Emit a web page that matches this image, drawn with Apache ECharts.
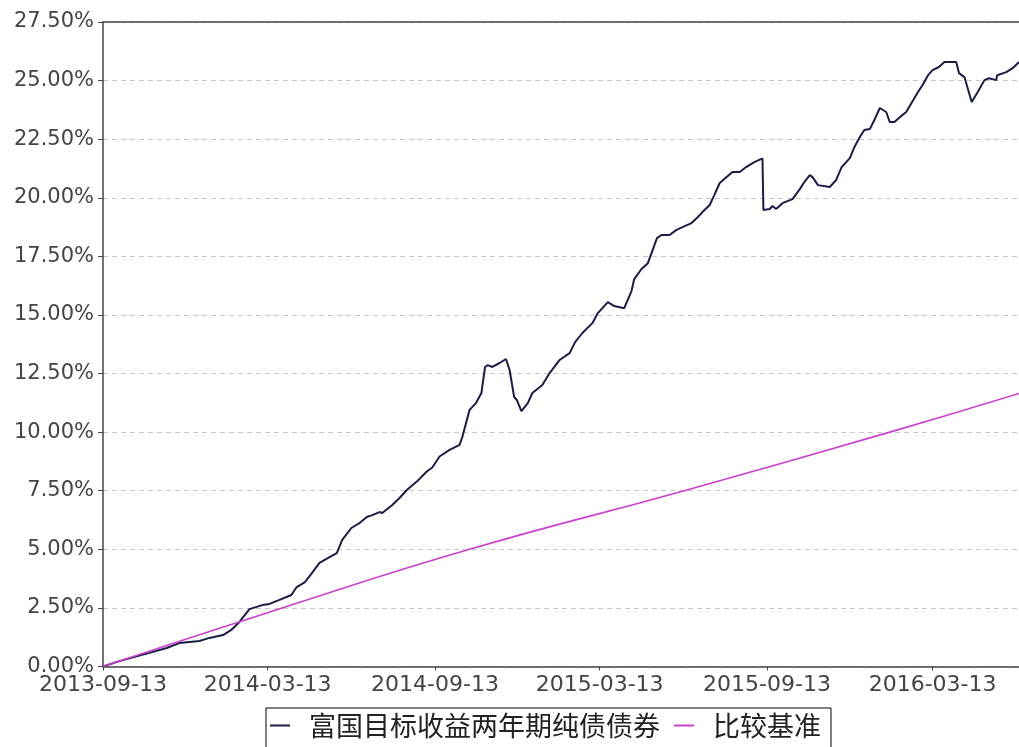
<!DOCTYPE html>
<html>
<head>
<meta charset="utf-8">
<script src="https://cdn.jsdelivr.net/npm/echarts@6/dist/echarts.min.js"></script>
<style>
html,body{margin:0;padding:0;background:#fff;}
#chart{width:1019px;height:747px;}
</style>
</head>
<body>
<div id="chart"></div>
<script>
const seriesNames = ['富国目标收益两年期纯债债券', '比较基准'];
const xTickLabels = ['2013-09-13','2014-03-13','2014-09-13','2015-03-13','2015-09-13','2016-03-13'];
const xMin = '2013-09-13';
const xMax = '2016-06-16';

const fundDates = ['2013-09-13','2013-10-01','2013-10-18','2013-11-03','2013-11-22','2013-12-06','2013-12-17','2013-12-28','2014-01-08','2014-01-23',
'2014-02-01','2014-02-10','2014-02-21','2014-03-07','2014-03-15','2014-03-26','2014-04-08','2014-04-14','2014-04-23','2014-04-30',
'2014-05-09','2014-05-20','2014-05-28','2014-06-03','2014-06-13','2014-06-22','2014-06-30','2014-07-06','2014-07-14','2014-07-17',
'2014-07-28','2014-08-05','2014-08-13','2014-08-24','2014-09-04','2014-09-10','2014-09-18','2014-09-29','2014-10-10','2014-10-13',
'2014-10-21','2014-10-28','2014-11-03','2014-11-07','2014-11-10','2014-11-15','2014-11-23','2014-11-30','2014-12-04','2014-12-09',
'2014-12-12','2014-12-17','2014-12-24','2014-12-29','2015-01-09','2015-01-17','2015-01-28','2015-02-08','2015-02-14','2015-02-22',
'2015-03-05','2015-03-11','2015-03-16','2015-03-22','2015-03-29','2015-04-09','2015-04-17','2015-04-20','2015-04-28','2015-05-05',
'2015-05-09','2015-05-15','2015-05-20','2015-05-29','2015-06-05','2015-06-12','2015-06-22','2015-06-29','2015-07-04','2015-07-12',
'2015-07-17','2015-07-23','2015-07-28','2015-08-06','2015-08-14','2015-08-21','2015-08-30','2015-09-08','2015-09-09','2015-09-16',
'2015-09-19','2015-09-23','2015-09-30','2015-10-11','2015-10-19','2015-10-24','2015-10-30','2015-11-02','2015-11-08','2015-11-21',
'2015-11-28','2015-12-04','2015-12-13','2015-12-18','2015-12-24','2015-12-29','2016-01-04','2016-01-09','2016-01-15','2016-01-22',
'2016-01-26','2016-01-31','2016-02-06','2016-02-13','2016-02-20','2016-02-26','2016-03-02','2016-03-08','2016-03-13','2016-03-20',
'2016-03-26','2016-04-08','2016-04-11','2016-04-17','2016-04-25','2016-05-01','2016-05-09','2016-05-14','2016-05-22','2016-05-23',
'2016-06-02','2016-06-09','2016-06-16'];

const fundValues = [0.00,0.23,0.41,0.58,0.79,1.00,1.05,1.09,1.22,1.34,
1.56,1.90,2.45,2.62,2.67,2.84,3.05,3.39,3.60,3.95,
4.42,4.67,4.84,5.40,5.91,6.12,6.38,6.46,6.59,6.55,
6.89,7.19,7.53,7.89,8.32,8.49,8.96,9.24,9.46,9.79,
10.95,11.24,11.67,12.78,12.86,12.78,12.95,13.12,12.65,11.50,
11.37,10.90,11.24,11.67,12.01,12.52,13.08,13.37,13.84,14.23,
14.65,15.08,15.29,15.55,15.38,15.29,16.02,16.53,16.96,17.21,
17.64,18.28,18.41,18.41,18.62,18.75,18.92,19.18,19.39,19.69,
20.11,20.63,20.80,21.10,21.10,21.31,21.52,21.68,19.48,19.52,
19.65,19.52,19.77,19.94,20.37,20.67,20.97,20.88,20.54,20.46,
20.76,21.31,21.69,22.16,22.59,22.89,22.93,23.32,23.83,23.66,
23.23,23.23,23.44,23.66,24.12,24.51,24.81,25.23,25.45,25.58,
25.79,25.79,25.32,25.15,24.09,24.47,25.02,25.10,25.02,25.23,
25.36,25.53,25.79];

const benchDates = ['2013-09-13','2014-03-29','2014-10-21','2015-06-14','2016-01-26','2016-06-16'];
const benchValues = [0.00, 2.50, 5.00, 7.50, 10.00, 11.65];

const fundColor = '#1a1d46';
const benchColor = '#cc3fcc';

// day offset from the first date (UTC-based, so no DST issues)
const dayOf = s => {
  const p = s.split('-').map(Number);
  const p0 = xMin.split('-').map(Number);
  return Math.round((Date.UTC(p[0], p[1] - 1, p[2]) - Date.UTC(p0[0], p0[1] - 1, p0[2])) / 86400000);
};
const tickDays = xTickLabels.map(dayOf);

const chart = echarts.init(document.getElementById('chart'), null, {renderer: 'canvas'});
chart.setOption({
  backgroundColor: '#ffffff',
  animation: false,
  grid: {left: 103, right: 0, top: 22, bottom: 80.5},
  legend: {
    left: 266, top: 708,
    data: seriesNames,
    icon: 'rect',
    borderColor: '#000', borderWidth: 1,
    padding: [4, 10, 14, 4],
    itemWidth: 20, itemHeight: 2, itemGap: 14,
    textStyle: {fontFamily: 'Noto Sans CJK SC', fontSize: 27, color: '#222', padding: [0, 0, 0, 14]}
  },
  xAxis: [{
    type: 'value',
    min: 0, max: dayOf(xMax),
    axisLine: {show: true, onZero: false, lineStyle: {color: '#444', width: 1.5}},
    axisTick: {show: true, length: 4, lineStyle: {color: '#444'}, customValues: tickDays},
    axisLabel: {
      customValues: tickDays,
      margin: 8,
      fontFamily: 'DejaVu Sans', fontSize: 22, color: '#444',
      formatter: v => {
        const i = tickDays.indexOf(Math.round(v));
        return i >= 0 ? xTickLabels[i] : '';
      }
    },
    splitLine: {show: false}
  }, {
    type: 'value', position: 'top',
    min: 0, max: dayOf(xMax),
    axisLine: {show: true, onZero: false, lineStyle: {color: '#444', width: 1.5}},
    axisTick: {show: false}, axisLabel: {show: false}, splitLine: {show: false}
  }],
  yAxis: {
    type: 'value', min: 0, max: 27.5, interval: 2.5,
    axisLine: {show: true, lineStyle: {color: '#444', width: 1.5}},
    axisTick: {show: true, length: 5, lineStyle: {color: '#444'}},
    axisLabel: {margin: 9, fontFamily: 'DejaVu Sans', fontSize: 21, color: '#444',
      formatter: v => v.toFixed(2) + '%'},
    splitLine: {show: true, lineStyle: {color: '#c8c8c8', type: [5, 4], width: 1}}
  },
  series: [{
    name: seriesNames[0], type: 'line', symbol: 'none', showSymbol: false,
    data: fundDates.map((d, i) => [dayOf(d), fundValues[i]]),
    lineStyle: {color: fundColor, width: 2},
    itemStyle: {color: fundColor}
  }, {
    name: seriesNames[1], type: 'line', symbol: 'none', showSymbol: false, smooth: true,
    data: benchDates.map((d, i) => [dayOf(d), benchValues[i]]),
    lineStyle: {color: benchColor, width: 1.6},
    itemStyle: {color: benchColor}
  }]
});
</script>
</body>
</html>
